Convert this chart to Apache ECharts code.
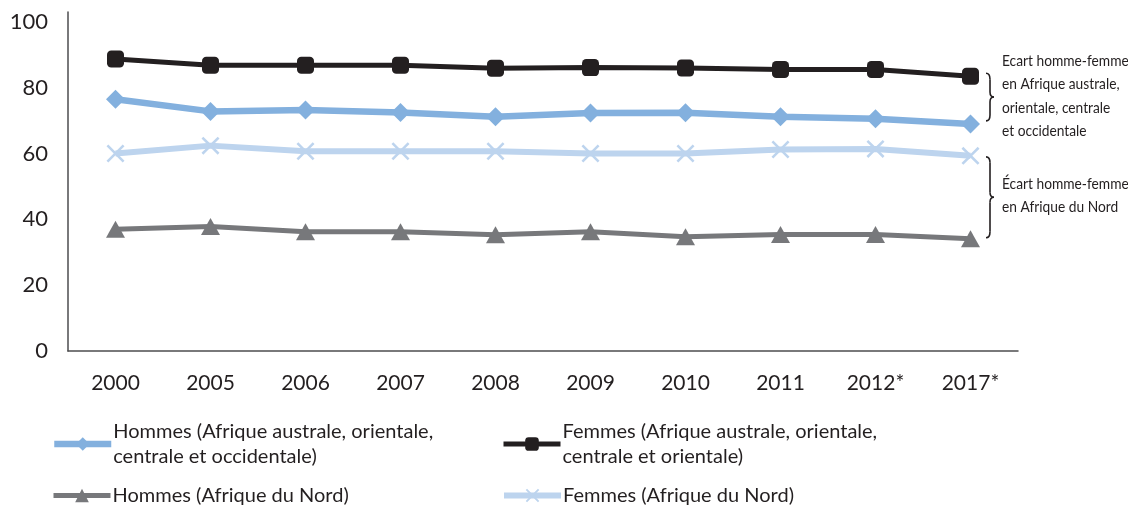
<!DOCTYPE html>
<html><head><meta charset="utf-8">
<script src="https://cdn.jsdelivr.net/npm/echarts@6/dist/echarts.min.js"></script>
<style>html,body{margin:0;padding:0;background:#fff}#c{width:1128px;height:506px}</style>
</head><body><div id="c"></div>
<script>
var categories = ['2000','2005','2006','2007','2008','2009','2010','2011','2012*','2017*'];
var hommesSud = [76.5, 72.8, 73.2, 72.5, 71.2, 72.3, 72.4, 71.2, 70.6, 69.0];
var femmesSud = [88.7, 86.8, 86.8, 86.8, 85.9, 86.1, 86.0, 85.5, 85.5, 83.5];
var hommesNord = [37.0, 37.8, 36.2, 36.2, 35.3, 36.2, 34.7, 35.4, 35.4, 34.1];
var femmesNord = [60.0, 62.4, 60.7, 60.7, 60.7, 60.0, 60.0, 61.2, 61.4, 59.3];
var yTicks = [0, 20, 40, 60, 80, 100];
var seriesNames = [
  'Hommes (Afrique australe, orientale, centrale et occidentale)',
  'Femmes (Afrique australe, orientale, centrale et orientale)',
  'Hommes (Afrique du Nord)',
  'Femmes (Afrique du Nord)'
];
var legendLabels = [
  'Hommes (Afrique australe, orientale,\ncentrale et occidentale)',
  'Femmes (Afrique australe, orientale,\ncentrale et orientale)',
  'Hommes (Afrique du Nord)',
  'Femmes (Afrique du Nord)'
];
var annot1 = 'Ecart homme-femme\nen Afrique australe,\norientale, centrale\net occidentale';
var annot2 = 'Écart homme-femme\nen Afrique du Nord';

var FONT = 'Lato, "Open Sans", sans-serif';
var xShape = 'path://M0,1 L1,0 L5,4 L9,0 L10,1 L6,5 L10,9 L9,10 L5,6 L1,10 L0,9 L4,5 Z';
var colors = ['#83b0de', '#231f20', '#77787b', '#bdd4ee'];
var widths = [6.5, 5, 5, 6];

var chart = echarts.init(document.getElementById('c'));
function legendFor(i, left, top) {
  return {
    data: [{ name: seriesNames[i], lineStyle: { width: widths[i], color: colors[i] } }],
    left: left, top: top, orient: 'horizontal',
    itemWidth: 57, itemHeight: 17, itemGap: 4,
    formatter: function () { return legendLabels[i]; },
    textStyle: { fontFamily: FONT, fontSize: 20, color: '#231f20', lineHeight: 25, padding: [0, 0, 0, -3] },
    selectedMode: false
  };
}
var option = {
  animation: false,
  backgroundColor: '#fff',
  grid: { left: 68, right: 110, top: 12, bottom: 155 },
  xAxis: {
    type: 'category', data: categories, boundaryGap: true,
    axisLine: { lineStyle: { color: '#4d4d4f', width: 1.5 } },
    axisTick: { show: false },
    axisLabel: { fontFamily: FONT, fontSize: 21, color: '#231f20', margin: 22 }
  },
  yAxis: {
    type: 'value', min: yTicks[0], max: 103, interval: 20,
    axisLine: { show: true, lineStyle: { color: '#4d4d4f', width: 1.5 } },
    axisTick: { show: false },
    splitLine: { show: false },
    axisLabel: { fontFamily: FONT, fontSize: 22, color: '#231f20', margin: 20, showMaxLabel: false, padding: [7, 0, 0, 0] }
  },
  legend: [legendFor(0, 46, 414), legendFor(1, 496, 414), legendFor(2, 46, 478), legendFor(3, 496, 478)],
  series: [
    { name: seriesNames[0], type: 'line', data: hommesSud, symbol: 'diamond', symbolSize: 19,
      lineStyle: { color: colors[0], width: widths[0] }, itemStyle: { color: colors[0] }, z: 3 },
    { name: seriesNames[1], type: 'line', data: femmesSud, symbol: 'roundRect', symbolSize: 17,
      lineStyle: { color: colors[1], width: widths[1] }, itemStyle: { color: colors[1] }, z: 4 },
    { name: seriesNames[2], type: 'line', data: hommesNord, symbol: 'triangle', symbolSize: [19, 17],
      lineStyle: { color: colors[2], width: widths[2] }, itemStyle: { color: colors[2] }, z: 2 },
    { name: seriesNames[3], type: 'line', data: femmesNord, symbol: xShape, symbolSize: 18,
      lineStyle: { color: colors[3], width: widths[3] }, itemStyle: { color: colors[3] }, z: 1 }
  ]
};
chart.setOption(option);

function brace(x, y1, y2) {
  var ym = (y1 + y2) / 2, w = 4, st = { stroke: '#231f20', lineWidth: 1.6, fill: null };
  function bz(a, b, c) {
    return { type: 'bezierCurve', shape: { x1: a[0], y1: a[1], cpx1: b[0], cpy1: b[1], x2: c[0], y2: c[1] }, style: st };
  }
  function ln(a, b) {
    return { type: 'line', shape: { x1: a[0], y1: a[1], x2: b[0], y2: b[1] }, style: st };
  }
  return [
    bz([x, y1], [x + w, y1], [x + w, y1 + 6]),
    ln([x + w, y1 + 6], [x + w, ym - 5]),
    bz([x + w, ym - 5], [x + w, ym], [x + 2 * w, ym]),
    bz([x + 2 * w, ym], [x + w, ym], [x + w, ym + 5]),
    ln([x + w, ym + 5], [x + w, y2 - 6]),
    bz([x + w, y2 - 6], [x + w, y2], [x, y2])
  ];
}
var last = categories.length - 1;
var yA = chart.convertToPixel({ gridIndex: 0 }, [last, femmesSud[last]])[1];
var yB = chart.convertToPixel({ gridIndex: 0 }, [last, hommesSud[last]])[1];
var yC = chart.convertToPixel({ gridIndex: 0 }, [last, femmesNord[last]])[1];
var yD = chart.convertToPixel({ gridIndex: 0 }, [last, hommesNord[last]])[1];
var bx = 986;
var gfx = [].concat(brace(bx, yA - 3, yB - 3), brace(bx, yC + 1, yD - 1));
var annStyle = { font: '16px ' + FONT, fill: '#231f20', lineHeight: 23.5 };
gfx.push({ type: 'text', x: 1002, y: 49, scaleX: 0.86, style: Object.assign({ text: annot1 }, annStyle) });
gfx.push({ type: 'text', x: 1002, y: 172, scaleX: 0.86, style: Object.assign({ text: annot2 }, annStyle) });
chart.setOption({ graphic: gfx });
</script></body></html>
